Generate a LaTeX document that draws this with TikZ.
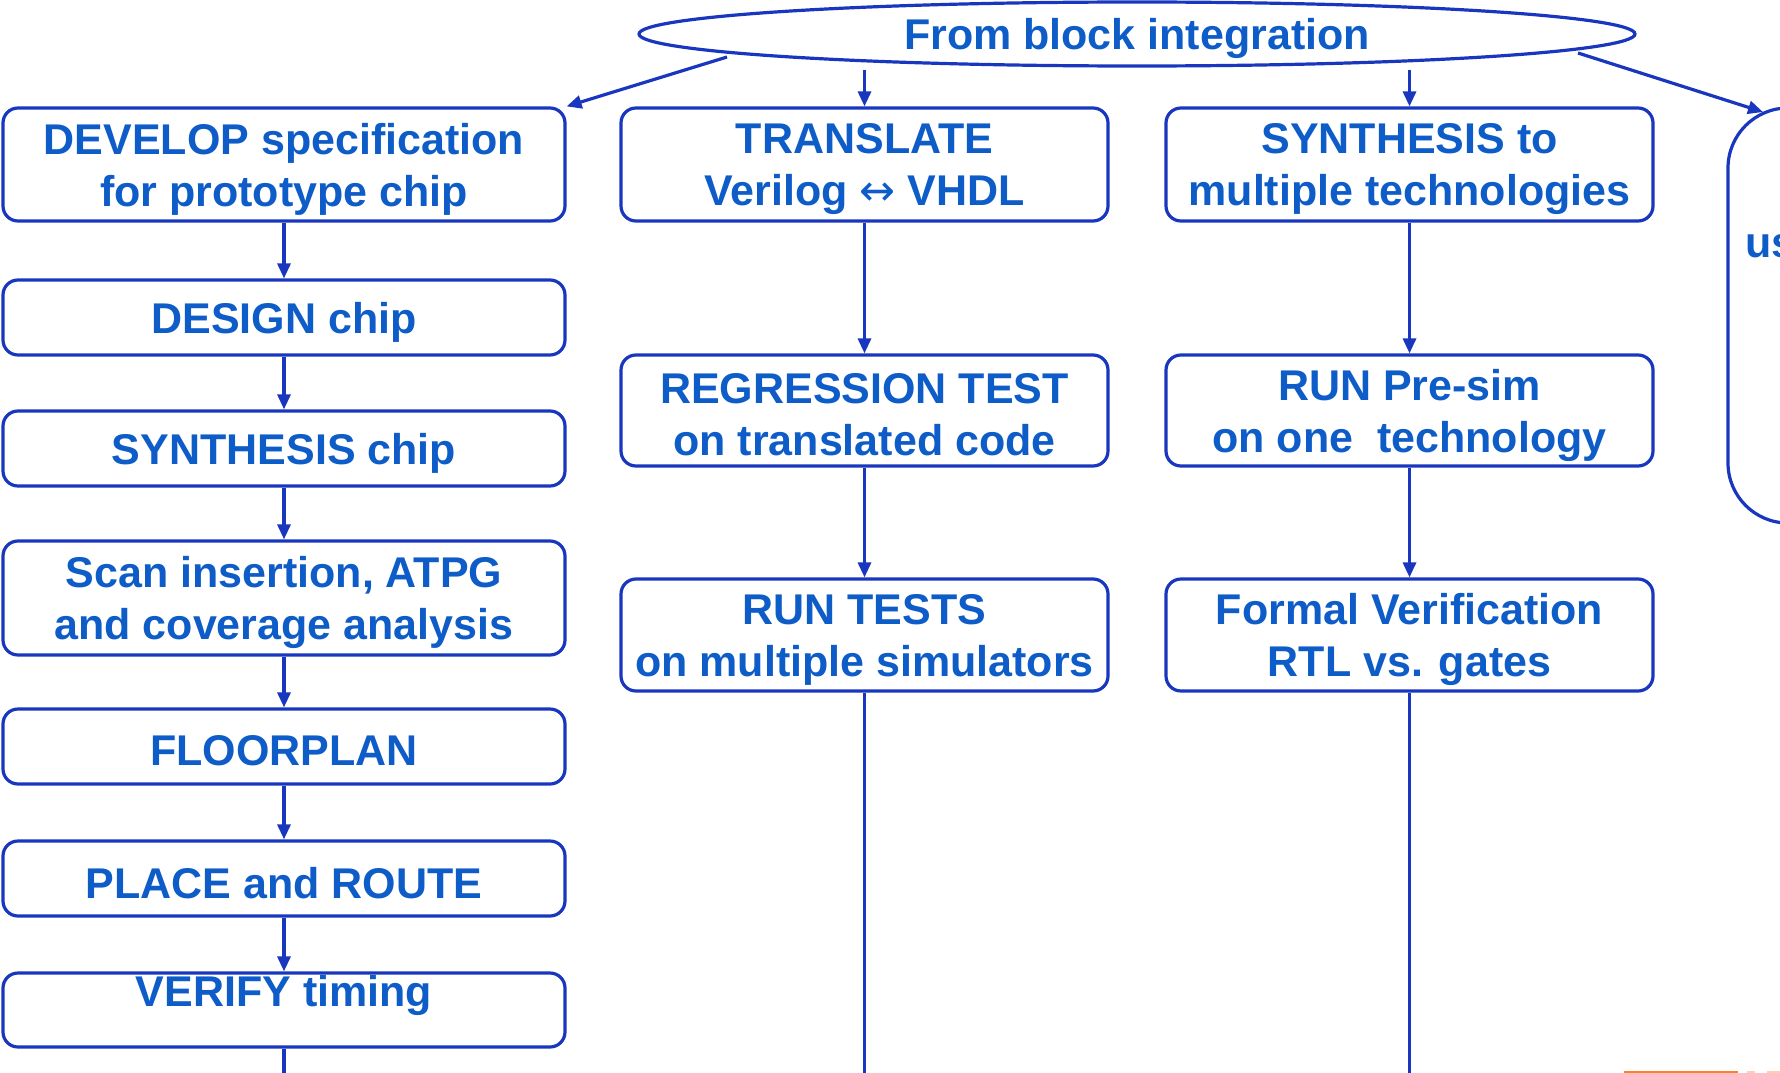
\documentclass[tikz,border=0pt]{standalone}
\usepackage{fontspec}
\setmainfont{Liberation Sans}
\newfontfamily\arrowfont{DejaVu Sans}
\usetikzlibrary{arrows.meta,calc,shapes.geometric}
\definecolor{txtblue}{RGB}{14,92,200}
\definecolor{lineblue}{RGB}{25,55,190}
\definecolor{orng}{RGB}{255,128,40}
\definecolor{lorng}{RGB}{255,205,175}
\begin{document}
\begin{tikzpicture}[x=1pt,y=-1pt,
  txt/.style={text=txtblue, font=\fontsize{43}{52}\selectfont\bfseries, align=center, inner sep=0pt, yshift=-4.5pt},
  box/.style={draw=lineblue, line width=3.2pt, rounded corners=15pt, inner sep=0pt},
  lbox/.style={box, minimum width=562pt},
  cbox/.style={box, minimum width=487pt},
  arr/.style={draw=lineblue, line width=3.2pt, -{Triangle[length=15pt,width=13pt]}},
  ln/.style={draw=lineblue, line width=3.2pt}
]
\useasboundingbox (0,0) rectangle (1780,1073);
\clip (0,0) rectangle (1780,1073);

% top ellipse
\node[draw=lineblue, line width=3.2pt, ellipse, inner sep=0pt, minimum width=996pt, minimum height=64pt] (ell) at (1137,34) {};
\node[txt] (ellT) at (ell) {From block integration};

% left column
\node[lbox, minimum height=113pt] (dev) at (284,164.5) {};
\node[txt] (devT) at (dev) {DEVELOP specification\\for prototype chip};
\node[lbox, minimum height=75pt] (des) at (284,317.5) {};
\node[txt] (desT) at (des) {DESIGN chip};
\node[lbox, minimum height=75pt] (syn) at (284,448.5) {};
\node[txt] (synT) at (syn) {SYNTHESIS chip};
\node[lbox, minimum height=114pt] (scan) at (284,598) {};
\node[txt] (scanT) at (scan) {Scan insertion, ATPG\\and coverage analysis};
\node[lbox, minimum height=75pt] (flo) at (284,746.5) {};
\node[txt] (floT) at (flo) {FLOORPLAN};
\node[lbox, minimum height=75pt] (pr) at (284,878.5) {};
\node[txt] (prT) at (pr) {PLACE and ROUTE};
\node[lbox, minimum height=74pt] (ver) at (284,1010) {};
\node[txt] (verT) at ($(ver.center)+(0,-19)$) {VERIFY timing};

% column 2
\node[cbox, minimum height=113pt] (tr) at (864.5,164.5) {};
\node[txt] (trT) at (tr) {TRANSLATE\\Verilog {\arrowfont\mdseries ↔} VHDL};
\node[cbox, minimum height=111pt] (reg) at (864.5,410.5) {};
\node[txt] (regT) at (reg) {REGRESSION TEST\\on translated code};
\node[cbox, minimum height=112pt] (rt) at (864.5,635) {};
\node[txt] (rtT) at (rt) {RUN TESTS\\on multiple simulators};

% column 3
\node[cbox, minimum height=113pt] (s2) at (1409.5,164.5) {};
\node[txt] (s2T) at (s2) {SYNTHESIS to\\multiple technologies};
\node[cbox, minimum height=111pt] (pre) at (1409.5,410.5) {};
\node[txt] (preT) at (pre) {RUN Pre-sim\\on one~~technology};
\node[cbox, minimum height=112pt] (fv) at (1409.5,635) {};
\node[txt] (fvT) at (fv) {Formal Verification\\RTL vs. gates};

% column 4 (cut off at the right edge)
\node[draw=lineblue, line width=3.2pt, rounded corners=60pt, minimum width=500pt, minimum height=415pt] (b4) at (1978,315.5) {};
\node[txt, anchor=west] (b4t) at (1745,242) {us};

% connector end points
\coordinate (eL) at (727,57);
\coordinate (eR) at (1578,53);
\coordinate (eT) at (864.5,70);
\coordinate (eS) at (1409.5,70);
\coordinate (b4in) at (1763,112);
\coordinate (endL) at (284,1085);
\coordinate (endT) at (864.5,1085);
\coordinate (endS) at (1409.5,1085);

% arrows from ellipse
\draw[arr] (eL) -- (dev.north east);
\draw[arr] (eT) -- (tr.north);
\draw[arr] (eS) -- (s2.north);
\draw[arr] (eR) -- (b4in);

% left column arrows
\draw[arr] (dev.south) -- (des.north);
\draw[arr] (des.south) -- (syn.north);
\draw[arr] (syn.south) -- (scan.north);
\draw[arr] (scan.south) -- (flo.north);
\draw[arr] (flo.south) -- (pr.north);
\draw[arr] (pr.south) -- (ver.north);
\draw[ln] (ver.south) -- (endL);

% column 2 arrows
\draw[arr] (tr.south) -- (reg.north);
\draw[arr] (reg.south) -- (rt.north);
\draw[ln] (rt.south) -- (endT);

% column 3 arrows
\draw[arr] (s2.south) -- (pre.north);
\draw[arr] (pre.south) -- (fv.north);
\draw[ln] (fv.south) -- (endS);

% orange mark at the bottom right
\draw[orng, line width=2pt] (1624,1072) -- (1738,1072);
\draw[lorng, line width=2pt] (1747,1072) -- (1755,1072);
\draw[lorng, line width=2pt] (1767,1072) -- (1780,1072);
\end{tikzpicture}
\end{document}
